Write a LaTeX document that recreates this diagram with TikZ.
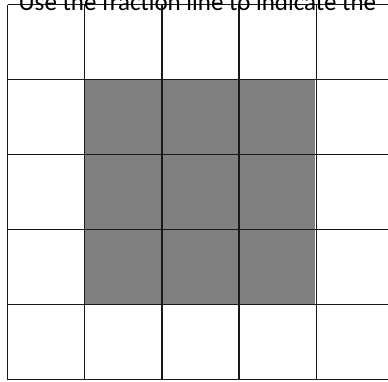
\documentclass[tikz,border=0pt]{standalone}
\usepackage{fontspec}
\setmainfont{Carlito}
\definecolor{shadegray}{RGB}{128,128,128}
\begin{document}
\begin{tikzpicture}[x=1pt,y=-1pt,
  gridline/.style={line width=1.4pt, draw=black!90},
  shaded/.style={fill=shadegray},
  titletext/.style={anchor=base west, inner sep=0pt, font=\fontsize{25}{30}\selectfont}]
\useasboundingbox (0,0) rectangle (388,381);
\clip (0,0) rectangle (388,381);
\fill[shaded] (84.7,79.5) rectangle (315.3,304.7);
\foreach \i in {0,...,5} \draw[gridline] ({7.5+77.2*\i},4.5) -- ({7.5+77.2*\i},379.5);
\foreach \j in {0,...,5} \draw[gridline] (7.5,{4.5+75*\j}) -- (393.5,{4.5+75*\j});
\node[titletext] (title) at (18.5,10) {Use the fraction line to indicate the};
\end{tikzpicture}
\end{document}
